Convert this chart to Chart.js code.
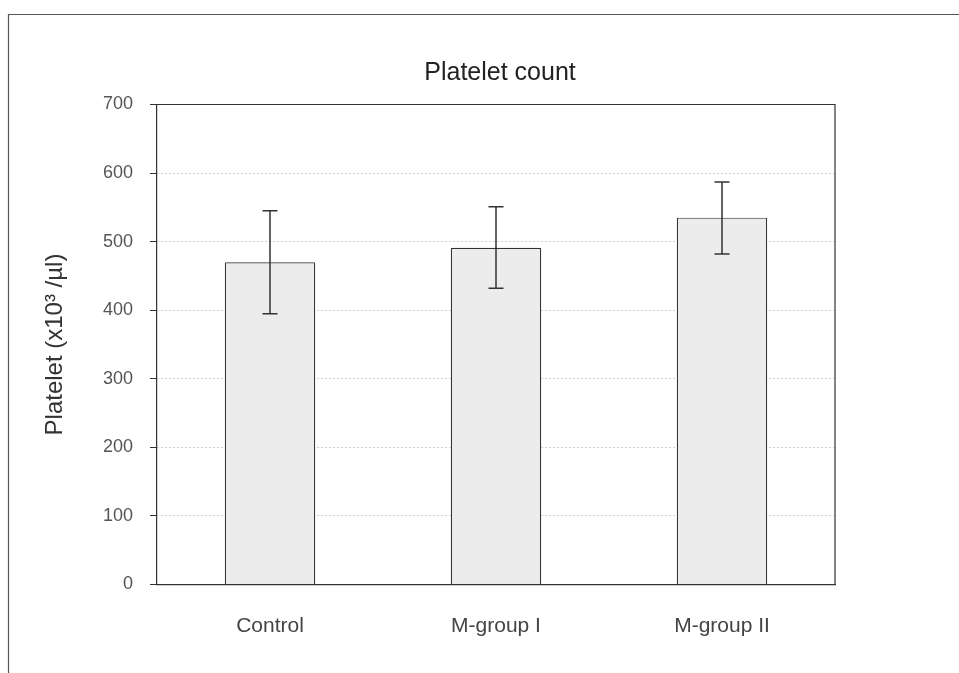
<!DOCTYPE html>
<html><head><meta charset="utf-8">
<script src="https://cdn.jsdelivr.net/npm/chart.js@4.4.1/dist/chart.umd.min.js"></script>
<style>html,body{margin:0;padding:0;background:#fff;}#wrap{width:959px;height:673px;}</style>
</head><body><div id="wrap"><canvas id="c" width="959" height="673"></canvas></div>
<script>
const categories = ["Control", "M-group I", "M-group II"];
const meanValues = [470, 491, 535];
const errorLow = [395, 432, 482];
const errorHigh = [545, 551, 587];
const yTicks = [0, 100, 200, 300, 400, 500, 600, 700];
const chartTitle = "Platelet count";

const frameAndBox = {
  id: 'frameAndBox',
  beforeDraw(chart) {
    const ctx = chart.ctx;
    ctx.save();
    ctx.strokeStyle = '#555';
    ctx.lineWidth = 1.2;
    ctx.beginPath();
    ctx.moveTo(8.5, 673); ctx.lineTo(8.5, 14.5); ctx.lineTo(959, 14.5);
    ctx.stroke();
    ctx.restore();
  },
  afterDraw(chart) {
    const a = chart.chartArea, ctx = chart.ctx;
    ctx.save();
    ctx.strokeStyle = '#333';
    ctx.lineWidth = 1.2;
    ctx.beginPath();
    ctx.moveTo(a.left, a.top); ctx.lineTo(a.right, a.top); ctx.lineTo(a.right, a.bottom);
    ctx.stroke();
    ctx.fillStyle = '#222';
    ctx.font = '25px "Liberation Sans", Arial, sans-serif';
    ctx.textAlign = 'center';
    ctx.textBaseline = 'alphabetic';
    ctx.fillText(chartTitle, (a.left + a.right) / 2 + 4, 80);
    ctx.restore();
  }
};

const errorBars = {
  id: 'errorBars',
  afterDatasetsDraw(chart) {
    const ctx = chart.ctx, ys = chart.scales.y;
    const meta = chart.getDatasetMeta(0);
    ctx.save();
    ctx.strokeStyle = '#333';
    ctx.lineWidth = 1.5;
    meta.data.forEach((bar, i) => {
      const x = bar.x;
      const yl = ys.getPixelForValue(errorLow[i]);
      const yh = ys.getPixelForValue(errorHigh[i]);
      ctx.beginPath();
      ctx.moveTo(x, yl); ctx.lineTo(x, yh);
      ctx.moveTo(x - 7.5, yl); ctx.lineTo(x + 7.5, yl);
      ctx.moveTo(x - 7.5, yh); ctx.lineTo(x + 7.5, yh);
      ctx.stroke();
    });
    ctx.restore();
  }
};

new Chart(document.getElementById('c'), {
  type: 'bar',
  data: {
    labels: categories,
    datasets: [{
      data: meanValues,
      backgroundColor: '#ececec',
      borderColor: '#333',
      borderWidth: 1.2,
      categoryPercentage: 1.0,
      barPercentage: 0.4
    }]
  },
  plugins: [frameAndBox, errorBars],
  options: {
    responsive: false,
    animation: false,
    layout: { padding: { left: 10, right: 124, top: 104.5, bottom: 0 } },
    plugins: {
      legend: { display: false },
      tooltip: { enabled: false },
      title: { display: false }
    },
    scales: {
      x: {
        afterFit(scale) { scale.height = 673 - 584.5; },
        grid: { display: false, drawTicks: false },
        border: { display: true, color: '#333', width: 1.2 },
        ticks: { color: '#444', padding: 29, font: { family: 'Liberation Sans', size: 21 } }
      },
      y: {
        min: 0, max: 700,
        afterFit(scale) { scale.width = 157 - 10; },
        afterBuildTicks(scale) { scale.ticks = yTicks.map(v => ({ value: v })); },
        grid: {
          color: (c) => (c.tick && (c.tick.value === 0 || c.tick.value === 700)) ? 'rgba(0,0,0,0)' : '#d0d0d0',
          tickColor: '#333',
          tickLength: 7,
          lineWidth: 1
        },
        border: { display: true, color: '#333', width: 1.2, dash: [2, 2] },
        ticks: { color: '#555', padding: 17, font: { family: 'Liberation Sans', size: 18 } },
        title: {
          display: true,
          text: 'Platelet (x10³ /µl)',
          color: '#333',
          font: { family: 'Liberation Sans', size: 24 },
          padding: { top: 31, bottom: 0 }
        }
      }
    }
  }
});
</script></body></html>
